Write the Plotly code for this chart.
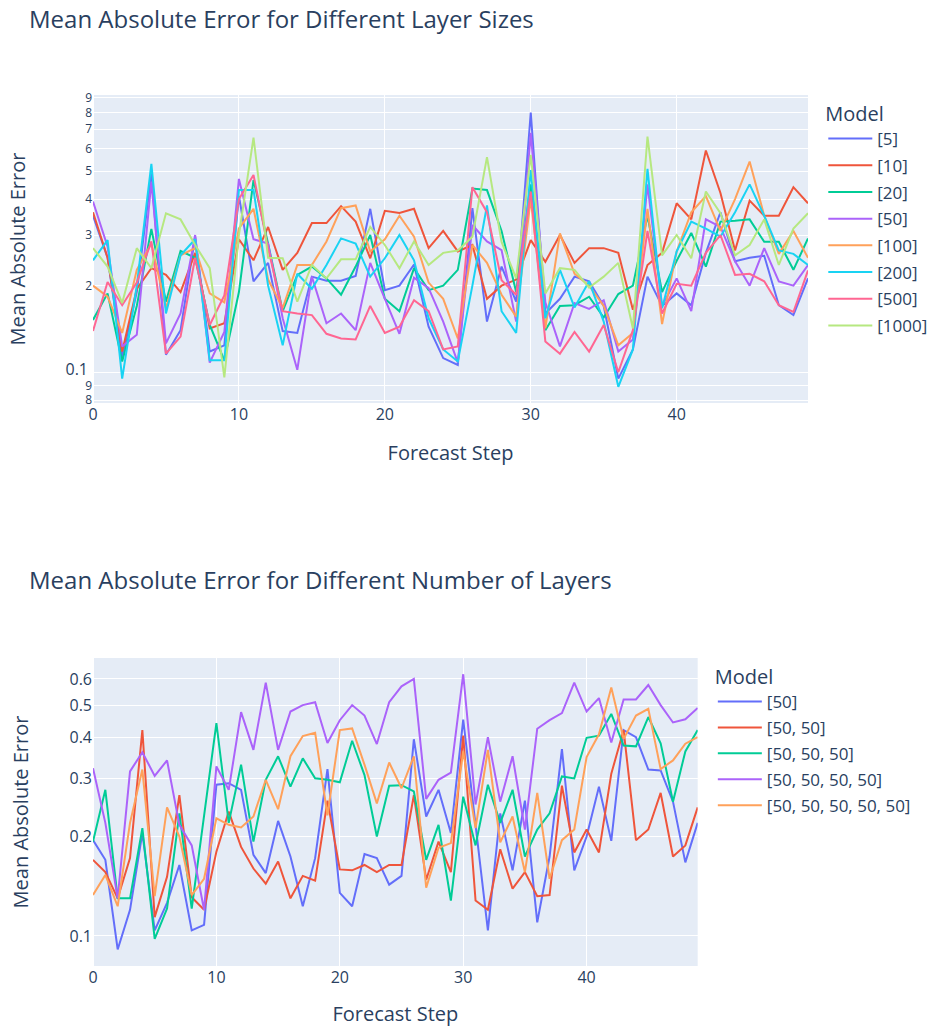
import plotly.graph_objects as go

# Forecast steps shared by both panels
steps = list(range(50))

# Panel 1: single hidden layer of varying width
size_models = ["[5]", "[10]", "[20]", "[50]", "[100]", "[200]", "[500]", "[1000]"]

mae_5 = [0.35, 0.25, 0.113, 0.19, 0.49, 0.115, 0.14, 0.296, 0.118, 0.124,
         0.41, 0.207, 0.24, 0.139, 0.137, 0.215, 0.208, 0.208, 0.216, 0.37,
         0.193, 0.2, 0.237, 0.144, 0.112, 0.106, 0.372, 0.15, 0.233, 0.176,
         0.8, 0.16, 0.18, 0.215, 0.207, 0.17, 0.095, 0.12, 0.215, 0.17,
         0.188, 0.171, 0.26, 0.36, 0.243, 0.25, 0.254, 0.171, 0.158, 0.212]
mae_10 = [0.36, 0.25, 0.118, 0.195, 0.23, 0.218, 0.19, 0.26, 0.142, 0.148,
          0.29, 0.245, 0.32, 0.227, 0.26, 0.33, 0.33, 0.378, 0.334, 0.249,
          0.364, 0.358, 0.37, 0.27, 0.31, 0.263, 0.277, 0.18, 0.2, 0.21,
          0.288, 0.242, 0.3, 0.24, 0.27, 0.27, 0.26, 0.165, 0.236, 0.26,
          0.387, 0.34, 0.59, 0.42, 0.265, 0.395, 0.35, 0.35, 0.44, 0.387]
mae_20 = [0.152, 0.188, 0.109, 0.17, 0.315, 0.176, 0.264, 0.25, 0.146, 0.11,
          0.19, 0.466, 0.28, 0.163, 0.218, 0.233, 0.212, 0.186, 0.233, 0.3,
          0.18, 0.163, 0.23, 0.193, 0.2, 0.227, 0.435, 0.43, 0.31, 0.19,
          0.45, 0.14, 0.17, 0.171, 0.183, 0.155, 0.187, 0.2, 0.35, 0.19,
          0.244, 0.305, 0.233, 0.334, 0.336, 0.34, 0.284, 0.284, 0.227, 0.292]
mae_50 = [0.392, 0.273, 0.123, 0.135, 0.46, 0.126, 0.16, 0.3, 0.108, 0.138,
          0.47, 0.29, 0.28, 0.154, 0.102, 0.215, 0.148, 0.16, 0.14, 0.24,
          0.18, 0.136, 0.213, 0.196, 0.15, 0.108, 0.325, 0.285, 0.266, 0.15,
          0.68, 0.175, 0.123, 0.174, 0.166, 0.178, 0.118, 0.13, 0.45, 0.17,
          0.212, 0.163, 0.34, 0.32, 0.243, 0.2, 0.27, 0.207, 0.2, 0.236]
mae_100 = [0.2, 0.183, 0.137, 0.227, 0.28, 0.167, 0.255, 0.27, 0.188, 0.175,
           0.316, 0.37, 0.21, 0.167, 0.236, 0.236, 0.285, 0.372, 0.38, 0.263,
           0.29, 0.35, 0.296, 0.205, 0.18, 0.131, 0.277, 0.24, 0.186, 0.156,
           0.4, 0.142, 0.304, 0.22, 0.2, 0.17, 0.124, 0.137, 0.37, 0.147,
           0.263, 0.36, 0.41, 0.31, 0.4, 0.54, 0.35, 0.258, 0.31, 0.25]
mae_200 = [0.245, 0.288, 0.095, 0.2, 0.53, 0.16, 0.255, 0.29, 0.11, 0.11,
           0.43, 0.43, 0.2, 0.124, 0.22, 0.195, 0.236, 0.292, 0.28, 0.215,
           0.249, 0.3, 0.245, 0.154, 0.12, 0.109, 0.2, 0.38, 0.163, 0.137,
           0.505, 0.154, 0.227, 0.168, 0.207, 0.15, 0.089, 0.12, 0.51, 0.167,
           0.263, 0.334, 0.316, 0.296, 0.36, 0.45, 0.35, 0.265, 0.258, 0.236]
mae_500 = [0.139, 0.206, 0.171, 0.205, 0.285, 0.116, 0.133, 0.25, 0.146, 0.185,
           0.4, 0.485, 0.27, 0.163, 0.16, 0.158, 0.136, 0.131, 0.13, 0.17,
           0.137, 0.144, 0.178, 0.163, 0.12, 0.123, 0.44, 0.36, 0.209, 0.186,
           0.425, 0.128, 0.116, 0.138, 0.118, 0.146, 0.1, 0.14, 0.31, 0.16,
           0.203, 0.2, 0.26, 0.3, 0.218, 0.22, 0.207, 0.171, 0.162, 0.226]
mae_1000 = [0.27, 0.233, 0.174, 0.27, 0.23, 0.357, 0.34, 0.277, 0.23, 0.096,
            0.3, 0.654, 0.25, 0.249, 0.176, 0.236, 0.212, 0.247, 0.247, 0.32,
            0.277, 0.23, 0.285, 0.236, 0.26, 0.265, 0.296, 0.56, 0.284, 0.212,
            0.57, 0.188, 0.23, 0.227, 0.197, 0.215, 0.24, 0.142, 0.66, 0.255,
            0.3, 0.249, 0.425, 0.357, 0.255, 0.277, 0.34, 0.236, 0.316, 0.357]

# Panel 2: stacks of 50-unit layers
depth_models = ["[50]", "[50, 50]", "[50, 50, 50]", "[50, 50, 50, 50]", "[50, 50, 50, 50, 50]"]

mae_d1 = [0.195, 0.17, 0.091, 0.12, 0.205, 0.104, 0.126, 0.164, 0.104, 0.108,
          0.287, 0.29, 0.277, 0.176, 0.155, 0.223, 0.174, 0.123, 0.172, 0.32,
          0.135, 0.123, 0.177, 0.172, 0.143, 0.152, 0.394, 0.23, 0.277, 0.205,
          0.452, 0.212, 0.104, 0.235, 0.158, 0.257, 0.11, 0.174, 0.368, 0.158,
          0.2, 0.283, 0.194, 0.42, 0.4, 0.319, 0.317, 0.255, 0.167, 0.22]
mae_d2 = [0.17, 0.156, 0.13, 0.172, 0.42, 0.114, 0.151, 0.267, 0.131, 0.12,
          0.18, 0.238, 0.186, 0.16, 0.144, 0.168, 0.13, 0.152, 0.147, 0.257,
          0.159, 0.158, 0.164, 0.156, 0.164, 0.164, 0.267, 0.148, 0.193, 0.156,
          0.404, 0.128, 0.12, 0.183, 0.139, 0.156, 0.132, 0.133, 0.285, 0.179,
          0.21, 0.179, 0.31, 0.42, 0.195, 0.21, 0.271, 0.174, 0.188, 0.245]
mae_d3 = [0.193, 0.277, 0.13, 0.13, 0.212, 0.098, 0.121, 0.235, 0.121, 0.23,
          0.441, 0.22, 0.33, 0.193, 0.297, 0.35, 0.283, 0.345, 0.3, 0.297,
          0.292, 0.39, 0.307, 0.2, 0.285, 0.286, 0.274, 0.17, 0.217, 0.128,
          0.264, 0.188, 0.287, 0.22, 0.277, 0.174, 0.21, 0.235, 0.304, 0.3,
          0.398, 0.404, 0.47, 0.377, 0.375, 0.46, 0.383, 0.255, 0.362, 0.42]
mae_d4 = [0.322, 0.22, 0.13, 0.315, 0.36, 0.305, 0.34, 0.217, 0.188, 0.12,
          0.326, 0.277, 0.476, 0.366, 0.585, 0.366, 0.478, 0.5, 0.51, 0.384,
          0.45, 0.5, 0.465, 0.381, 0.51, 0.57, 0.6, 0.26, 0.297, 0.312,
          0.62, 0.25, 0.4, 0.255, 0.35, 0.21, 0.424, 0.45, 0.473, 0.585,
          0.478, 0.525, 0.385, 0.52, 0.52, 0.575, 0.5, 0.443, 0.453, 0.49]
mae_d5 = [0.133, 0.153, 0.123, 0.22, 0.319, 0.132, 0.245, 0.2, 0.133, 0.149,
          0.227, 0.217, 0.213, 0.23, 0.297, 0.242, 0.35, 0.403, 0.412, 0.232,
          0.42, 0.425, 0.33, 0.252, 0.335, 0.28, 0.35, 0.14, 0.185, 0.191,
          0.362, 0.212, 0.366, 0.192, 0.23, 0.156, 0.271, 0.149, 0.195, 0.21,
          0.348, 0.408, 0.565, 0.395, 0.465, 0.487, 0.32, 0.34, 0.382, 0.4]

size_series = [mae_5, mae_10, mae_20, mae_50, mae_100, mae_200, mae_500, mae_1000]
depth_series = [mae_d1, mae_d2, mae_d3, mae_d4, mae_d5]

# y ticks on the second panel
depth_ticks = [0.1, 0.2, 0.3, 0.4, 0.5, 0.6]

palette = ["#636efa", "#EF553B", "#00cc96", "#ab63fa", "#FFA15A",
           "#19d3f3", "#FF6692", "#B6E880"]

fig = go.Figure()

for name, vals, col in zip(size_models, size_series, palette):
    fig.add_trace(go.Scatter(x=steps, y=vals, mode="lines", name=name,
                             line=dict(color=col, width=2),
                             legendgroup="s" + name,
                             xaxis="x", yaxis="y", legend="legend"))

for name, vals, col in zip(depth_models, depth_series, palette):
    fig.add_trace(go.Scatter(x=steps, y=vals, mode="lines", name=name,
                             line=dict(color=col, width=2),
                             legendgroup="d" + name,
                             xaxis="x2", yaxis="y2", legend="legend2"))

bottom_right = 0.8457
axis_title_font = dict(size=20)
legend_style = dict(title=dict(text="Model", font=dict(size=20)),
                    font=dict(size=17), itemwidth=44,
                    xanchor="left", yanchor="top")

fig.update_layout(
    template="plotly",
    width=930, height=1027,
    margin=dict(l=93, r=122, t=95, b=61, autoexpand=False),
    font=dict(family="Open Sans, sans-serif", size=16, color="#2a3f5f"),
    xaxis=dict(domain=[0, 1], range=[0, 49], anchor="y", dtick=10, automargin=False,
               title=dict(text="Forecast Step", font=axis_title_font, standoff=22)),
    yaxis=dict(domain=[0.6464, 1], type="log", range=[-1.107, -0.036], anchor="x",
               automargin=False,
               title=dict(text="Mean Absolute Error", font=axis_title_font, standoff=34)),
    xaxis2=dict(domain=[0, bottom_right], range=[0, 49], anchor="y2", dtick=10,
                automargin=False,
                title=dict(text="Forecast Step", font=axis_title_font, standoff=28)),
    yaxis2=dict(domain=[0, 0.3536], type="log", range=[-1.091, -0.1585], anchor="x2",
                tickvals=depth_ticks, automargin=False,
                title=dict(text="Mean Absolute Error", font=axis_title_font, standoff=35)),
    legend=dict(x=1.0214, y=1.0, tracegroupgap=1.6, **legend_style),
    legend2=dict(x=0.8669, y=0.3536, tracegroupgap=0.8, **legend_style),
    annotations=[
        dict(text="Mean Absolute Error for Different Layer Sizes",
             xref="paper", yref="paper", x=-0.0923, y=1.0884,
             xanchor="left", yanchor="middle", showarrow=False,
             font=dict(size=24)),
        dict(text="Mean Absolute Error for Different Number of Layers",
             xref="paper", yref="paper", x=-0.0923, y=0.4432,
             xanchor="left", yanchor="middle", showarrow=False,
             font=dict(size=24)),
    ],
)

fig.write_html("out.html")
